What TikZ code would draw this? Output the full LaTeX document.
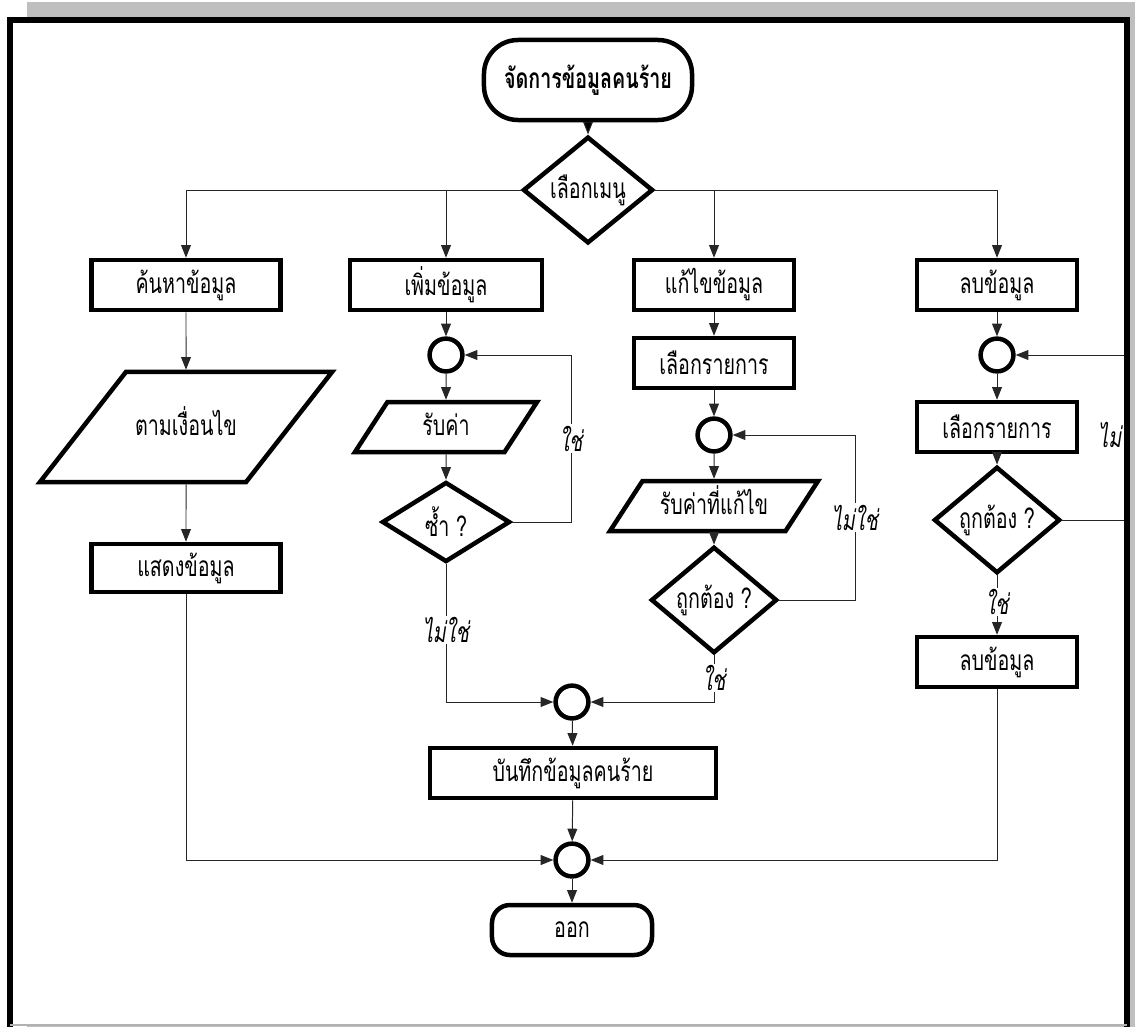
\documentclass[tikz,border=0pt]{standalone}
\usepackage{fontspec}
\newfontfamily\thaifont[Script=Thai,FakeStretch=0.7]{Loma}
\usepackage{tikz}
\usetikzlibrary{arrows.meta,shapes.geometric}

\begin{document}
\begin{tikzpicture}[x=0.025cm,y=-0.025cm,>={Triangle[length=9pt,width=7pt]},
        font=\thaifont\fontsize{20}{23}\selectfont,
        line/.style={draw=black!85,line width=0.7pt},
        terminal/.style={draw,line width=3.2pt,rectangle,rounded corners=0.85cm,
            minimum width=5.2cm,minimum height=2cm},
        process/.style={draw,line width=3.2pt,rectangle,minimum height=1.25cm},
        decision/.style={draw,line width=3.2pt,diamond,inner sep=0pt,
            minimum width=3.2cm,minimum height=2cm},
        io/.style={draw,line width=3.2pt,trapezium,trapezium left angle=57,
            trapezium right angle=123,trapezium stretches body,
            text height=0.46cm,text depth=0.04cm,inner ysep=0.375cm},
        junction/.style={draw,line width=3.2pt,circle,minimum size=0.82cm,inner sep=0pt},
        answer/.style={fill=white,inner sep=1pt,font=\thaifont\itshape\fontsize{20}{23}\selectfont}]

  \useasboundingbox (0,0) rectangle (1135,1027);
  % page shadow and frame
  \fill[black!25] (27,2) rectangle (1135,1027);
  \fill[white] (10,20) rectangle (1127,1024);

  \node[terminal,font=\thaifont\bfseries\fontsize{20}{23}\selectfont] (start) at (588,80) {จัดการข้อมูลคนร้าย};
  \node[decision,minimum width=3.25cm] (menu) at (588,190) {เลือกเมนู};

  \node[process,minimum width=4.725cm] (search) at (186,285) {ค้นหาข้อมูล};
  \node[process,minimum width=4.8cm] (add) at (446,285) {เพิ่มข้อมูล};
  \node[process,minimum width=4cm] (edit) at (714,285) {แก้ไขข้อมูล};
  \node[process,minimum width=4cm] (del) at (997,285) {ลบข้อมูล};

  % search
  \node[io,trapezium left angle=52,trapezium right angle=128,
        inner ysep=1.125cm,minimum width=7.3cm] (cond) at (186,427) {ตามเงื่อนไข};
  \node[process,minimum width=4.725cm,minimum height=1.2cm] (show) at (186,568) {แสดงข้อมูล};

  % add
  \node[junction] (jadd) at (446,355) {};
  \node[io,minimum width=4.55cm] (inadd) at (446,427) {รับค่า};
  \node[decision] (dup) at (446,522) {ซ้ำ ?};

  % edit
  \node[process,minimum width=4cm] (seledit) at (714,363) {เลือกรายการ};
  \node[junction] (jedit) at (714,435) {};
  \node[io,minimum width=5.2cm] (inedit) at (714,506) {รับค่าที่แก้ไข};
  \node[decision,minimum width=3.15cm] (okedit) at (714,600) {ถูกต้อง ?};

  % delete
  \node[junction] (jdel) at (997,355) {};
  \node[process,minimum width=4cm] (seldel) at (997,427) {เลือกรายการ};
  \node[decision,minimum width=3.15cm] (okdel) at (997,520) {ถูกต้อง ?};
  \node[process,minimum width=4cm] (remove) at (997,662) {ลบข้อมูล};

  % save and exit
  \node[junction] (jsave) at (572,702) {};
  \node[process,minimum width=7.15cm] (save) at (573,773) {บันทึกข้อมูลคนร้าย};
  \node[junction] (jend) at (572,860) {};
  \node[terminal,rounded corners=0.45cm,minimum width=4cm,minimum height=1.25cm] (stop) at (572,930) {ออก};

  \coordinate (loopadd) at (571,522);
  \coordinate (loopedit) at (855,600);
  \coordinate (loopdel) at (1125,520);

  \path[line,->] (start) edge (menu);
  \draw[line,->] (menu.west) -| (search);
  \draw[line,->] (menu.west) -| (add);
  \draw[line,->] (menu.east) -| (edit);
  \draw[line,->] (menu.east) -| (del);

  \draw[line,->] (search) -- (cond);
  \draw[line,->] (cond) -- (show);
  \draw[line,->] (show) |- (jend);

  \draw[line,->] (add) -- (jadd);
  \draw[line,->] (jadd) -- (inadd);
  \draw[line,->] (inadd) -- (dup);
  \draw[line,->] (dup.east) -- (loopadd) |- node[answer,pos=0.25] {ใช่} (jadd);
  \draw[line,->] (dup.south) |- node[answer,pos=0.24] {ไม่ใช่} (jsave);

  \draw[line,->] (edit) -- (seledit);
  \draw[line,->] (seledit) -- (jedit);
  \draw[line,->] (jedit) -- (inedit);
  \draw[line,->] (inedit) -- (okedit);
  \draw[line,->] (okedit.east) -- (loopedit) |- node[answer,pos=0.25] {ไม่ใช่} (jedit);
  \draw[line,->] (okedit.south) |- node[answer,pos=0.24] {ใช่} (jsave);

  \draw[line,->] (del) -- (jdel);
  \draw[line,->] (jdel) -- (seldel);
  \draw[line,->] (seldel) -- (okdel);
  \draw[line,->] (okdel.east) -- (loopdel) |- (jdel);
  \node[answer,anchor=east,fill=none] at (1123,435) {ไม่};
  \draw[line,->] (okdel) -- node[answer,pos=0.45] {ใช่} (remove);
  \draw[line,->] (remove) |- (jend);

  \draw[line,->] (jsave) -- (save);
  \draw[line,->] (save) -- (jend);
  \draw[line,->] (jend) -- (stop);

  % frame on top
  \draw[line width=4.5pt,line cap=rect] (10,1024) -- (10,20) -- (1127,20) -- (1127,1024);
  \draw[black!30,line width=1pt] (10,1025) -- (1127,1025);
\end{tikzpicture}
\end{document}
